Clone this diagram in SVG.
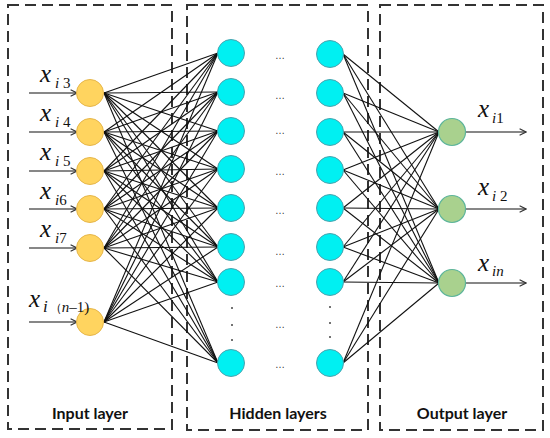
<svg xmlns="http://www.w3.org/2000/svg" width="550" height="438" viewBox="0 0 550 438">
<defs>
<style>
.box{fill:none;stroke:#333;stroke-width:2;stroke-dasharray:11,6}
.in{fill:#FFD45F;stroke:#E6B64A;stroke-width:1}
.hid{fill:#00F0F2;stroke:#4AA3AE;stroke-width:1}
.out{fill:#A9D18E;stroke:#5DB59B;stroke-width:1.2}
.cn line{stroke:#111;stroke-width:1.1}
.ar{stroke:#333;stroke-width:1.2;fill:none}
.var{font-family:"Liberation Serif","Times New Roman",serif;font-style:italic;font-size:25px;fill:#111}
.sub{font-family:"Liberation Serif","Times New Roman",serif;font-size:15px;fill:#111}
.sub .it{font-style:italic}
.lab{font-family:Lato,"Open Sans",sans-serif;font-weight:bold;font-size:16px;fill:#111;text-anchor:middle}
.dots{font-family:"Liberation Sans",sans-serif;font-size:10px;fill:#333;text-anchor:middle}
.vd{fill:#444}
</style>
<marker id="ah" viewBox="0 0 10 10" refX="9" refY="5" markerWidth="8" markerHeight="8" orient="auto" markerUnits="userSpaceOnUse">
<path d="M1,1 L9,5 L1,9" fill="none" stroke="#333" stroke-width="1.4"/>
</marker>
</defs>
<rect width="550" height="438" fill="#fff"/>
<g id="boxes">
<rect class="box" x="8" y="5" width="164" height="424"/>
<rect class="box" x="187" y="5" width="181" height="425"/>
<rect class="box" x="380" y="5" width="163" height="425"/>
</g>
<g id="connectors" class="cn">
<g id="c1">
<line x1="104" y1="93" x2="218" y2="53"/><line x1="104" y1="93" x2="218" y2="92"/><line x1="104" y1="93" x2="218" y2="131"/><line x1="104" y1="93" x2="218" y2="169"/><line x1="104" y1="93" x2="218" y2="208"/><line x1="104" y1="93" x2="218" y2="247"/><line x1="104" y1="93" x2="218" y2="282"/><line x1="104" y1="93" x2="218" y2="363"/>
<line x1="104" y1="132" x2="218" y2="53"/><line x1="104" y1="132" x2="218" y2="92"/><line x1="104" y1="132" x2="218" y2="131"/><line x1="104" y1="132" x2="218" y2="169"/><line x1="104" y1="132" x2="218" y2="208"/><line x1="104" y1="132" x2="218" y2="247"/><line x1="104" y1="132" x2="218" y2="282"/><line x1="104" y1="132" x2="218" y2="363"/>
<line x1="104" y1="171" x2="218" y2="53"/><line x1="104" y1="171" x2="218" y2="92"/><line x1="104" y1="171" x2="218" y2="131"/><line x1="104" y1="171" x2="218" y2="169"/><line x1="104" y1="171" x2="218" y2="208"/><line x1="104" y1="171" x2="218" y2="247"/><line x1="104" y1="171" x2="218" y2="282"/><line x1="104" y1="171" x2="218" y2="363"/>
<line x1="104" y1="209" x2="218" y2="53"/><line x1="104" y1="209" x2="218" y2="92"/><line x1="104" y1="209" x2="218" y2="131"/><line x1="104" y1="209" x2="218" y2="169"/><line x1="104" y1="209" x2="218" y2="208"/><line x1="104" y1="209" x2="218" y2="247"/><line x1="104" y1="209" x2="218" y2="282"/><line x1="104" y1="209" x2="218" y2="363"/>
<line x1="104" y1="248" x2="218" y2="53"/><line x1="104" y1="248" x2="218" y2="92"/><line x1="104" y1="248" x2="218" y2="131"/><line x1="104" y1="248" x2="218" y2="169"/><line x1="104" y1="248" x2="218" y2="208"/><line x1="104" y1="248" x2="218" y2="247"/><line x1="104" y1="248" x2="218" y2="282"/><line x1="104" y1="248" x2="218" y2="363"/>
<line x1="104" y1="322" x2="218" y2="53"/><line x1="104" y1="322" x2="218" y2="92"/><line x1="104" y1="322" x2="218" y2="131"/><line x1="104" y1="322" x2="218" y2="169"/><line x1="104" y1="322" x2="218" y2="208"/><line x1="104" y1="322" x2="218" y2="247"/><line x1="104" y1="322" x2="218" y2="282"/><line x1="104" y1="322" x2="218" y2="363"/>
</g>
<g id="c2">
<line x1="343" y1="54" x2="439" y2="132"/><line x1="343" y1="54" x2="439" y2="209"/><line x1="343" y1="54" x2="439" y2="283"/>
<line x1="343" y1="93" x2="439" y2="132"/><line x1="343" y1="93" x2="439" y2="209"/><line x1="343" y1="93" x2="439" y2="283"/>
<line x1="343" y1="132" x2="439" y2="132"/><line x1="343" y1="132" x2="439" y2="209"/><line x1="343" y1="132" x2="439" y2="283"/>
<line x1="343" y1="170" x2="439" y2="132"/><line x1="343" y1="170" x2="439" y2="209"/><line x1="343" y1="170" x2="439" y2="283"/>
<line x1="343" y1="208" x2="439" y2="132"/><line x1="343" y1="208" x2="439" y2="209"/><line x1="343" y1="208" x2="439" y2="283"/>
<line x1="343" y1="247" x2="439" y2="132"/><line x1="343" y1="247" x2="439" y2="209"/><line x1="343" y1="247" x2="439" y2="283"/>
<line x1="343" y1="282" x2="439" y2="132"/><line x1="343" y1="282" x2="439" y2="209"/><line x1="343" y1="282" x2="439" y2="283"/>
<line x1="343" y1="363" x2="439" y2="132"/><line x1="343" y1="363" x2="439" y2="209"/><line x1="343" y1="363" x2="439" y2="283"/>
</g>
<g id="arrows">
<line class="ar" x1="29" y1="93" x2="77" y2="93" marker-end="url(#ah)"/>
<line class="ar" x1="29" y1="132" x2="77" y2="132" marker-end="url(#ah)"/>
<line class="ar" x1="29" y1="171" x2="77" y2="171" marker-end="url(#ah)"/>
<line class="ar" x1="29" y1="209" x2="77" y2="209" marker-end="url(#ah)"/>
<line class="ar" x1="29" y1="248" x2="77" y2="248" marker-end="url(#ah)"/>
<line class="ar" x1="29" y1="322" x2="77" y2="322" marker-end="url(#ah)"/>
<line class="ar" x1="465" y1="132" x2="526" y2="132" marker-end="url(#ah)"/>
<line class="ar" x1="465" y1="209" x2="526" y2="209" marker-end="url(#ah)"/>
<line class="ar" x1="465" y1="283" x2="526" y2="283" marker-end="url(#ah)"/>
</g>
</g>
<g id="input-nodes">
<g id="in1"><circle class="in" cx="90" cy="93" r="13.5"/><text class="var" x="40" y="82">x</text><text class="sub" x="55" y="88"><tspan class="it">i</tspan> 3</text></g>
<g id="in2"><circle class="in" cx="90" cy="132" r="13.5"/><text class="var" x="40" y="121">x</text><text class="sub" x="55" y="127"><tspan class="it">i</tspan> 4</text></g>
<g id="in3"><circle class="in" cx="90" cy="171" r="13.5"/><text class="var" x="40" y="160">x</text><text class="sub" x="55" y="166"><tspan class="it">i</tspan> 5</text></g>
<g id="in4"><circle class="in" cx="90" cy="209" r="13.5"/><text class="var" x="40" y="199">x</text><text class="sub" x="55" y="205"><tspan class="it">i</tspan>6</text></g>
<g id="in5"><circle class="in" cx="90" cy="248" r="13.5"/><text class="var" x="40" y="237">x</text><text class="sub" x="55" y="243"><tspan class="it">i</tspan>7</text></g>
<g id="in6"><circle class="in" cx="90" cy="322" r="13.5"/><text class="var" x="29" y="307" font-size="27">x</text><text class="sub" x="43" y="312"><tspan class="it" font-size="17">i</tspan><tspan font-size="12" dx="2">（</tspan><tspan class="it">n</tspan>–1)</text></g>
</g>
<g id="hidden-col1">
<g id="h1a"><circle class="hid" cx="231" cy="53" r="13.5"/></g>
<g id="h1b"><circle class="hid" cx="231" cy="92" r="13.5"/></g>
<g id="h1c"><circle class="hid" cx="231" cy="131" r="13.5"/></g>
<g id="h1d"><circle class="hid" cx="231" cy="169" r="13.5"/></g>
<g id="h1e"><circle class="hid" cx="231" cy="208" r="13.5"/></g>
<g id="h1f"><circle class="hid" cx="231" cy="247" r="13.5"/></g>
<g id="h1g"><circle class="hid" cx="231" cy="282" r="13.5"/></g>
<g id="h1h"><circle class="hid" cx="231" cy="363" r="13.5"/></g>
<circle class="vd" cx="232" cy="308" r="1"/><circle class="vd" cx="232" cy="325" r="1"/><circle class="vd" cx="232" cy="340" r="1"/>
</g>
<g id="hidden-col2">
<g id="h2a"><circle class="hid" cx="330" cy="54" r="13.5"/></g>
<g id="h2b"><circle class="hid" cx="330" cy="93" r="13.5"/></g>
<g id="h2c"><circle class="hid" cx="330" cy="132" r="13.5"/></g>
<g id="h2d"><circle class="hid" cx="330" cy="170" r="13.5"/></g>
<g id="h2e"><circle class="hid" cx="330" cy="208" r="13.5"/></g>
<g id="h2f"><circle class="hid" cx="330" cy="247" r="13.5"/></g>
<g id="h2g"><circle class="hid" cx="330" cy="282" r="13.5"/></g>
<g id="h2h"><circle class="hid" cx="330" cy="363" r="13.5"/></g>
<circle class="vd" cx="330" cy="307" r="1"/><circle class="vd" cx="330" cy="323" r="1"/><circle class="vd" cx="330" cy="337" r="1"/>
</g>
<g id="hidden-dots">
<text class="dots" x="280" y="59">…</text>
<text class="dots" x="280" y="99">…</text>
<text class="dots" x="280" y="134">…</text>
<text class="dots" x="280" y="175">…</text>
<text class="dots" x="280" y="214">…</text>
<text class="dots" x="280" y="255">…</text>
<text class="dots" x="280" y="287">…</text>
<text class="dots" x="280" y="328">…</text>
<text class="dots" x="280" y="368">…</text>
</g>
<g id="output-nodes">
<g id="out1"><circle class="out" cx="452" cy="132" r="13.5"/><text class="var" x="478" y="117">x</text><text class="sub" x="492" y="123"><tspan class="it">i</tspan>1</text></g>
<g id="out2"><circle class="out" cx="452" cy="209" r="13.5"/><text class="var" x="478" y="195">x</text><text class="sub" x="492" y="201"><tspan class="it">i</tspan> 2</text></g>
<g id="out3"><circle class="out" cx="452" cy="283" r="13.5"/><text class="var" x="478" y="271">x</text><text class="sub" x="492" y="276"><tspan class="it">in</tspan></text></g>
</g>
<g id="labels">
<text class="lab" x="90" y="419">Input layer</text>
<text class="lab" x="278" y="419">Hidden layers</text>
<text class="lab" x="462" y="419">Output layer</text>
</g>
</svg>
